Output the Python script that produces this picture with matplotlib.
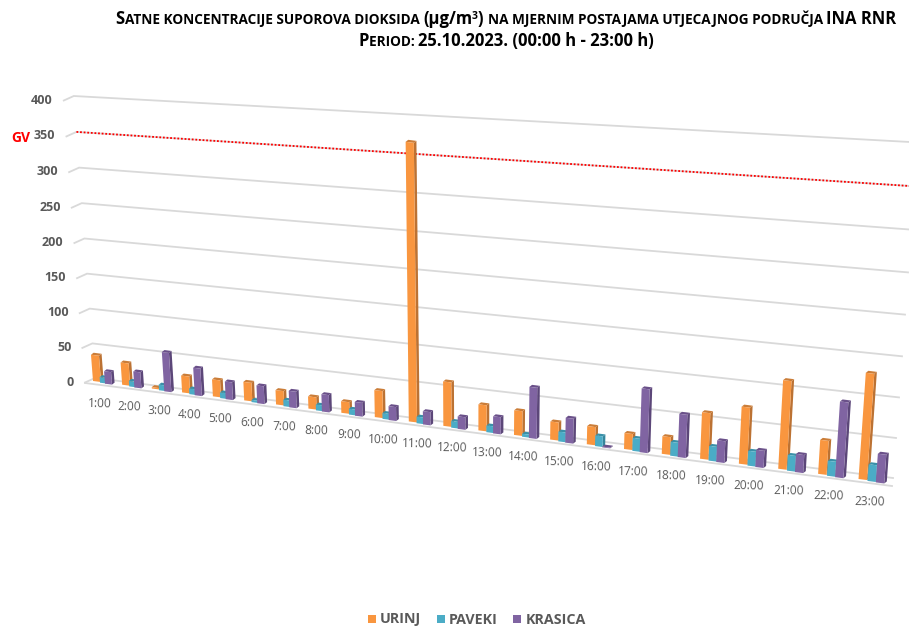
import matplotlib
matplotlib.use("Agg")
import matplotlib.pyplot as plt
from matplotlib.patches import Polygon, Rectangle

# ---------- data ----------
hours = ["1:00","2:00","3:00","4:00","5:00","6:00","7:00","8:00","9:00","10:00","11:00","12:00",
         "13:00","14:00","15:00","16:00","17:00","18:00","19:00","20:00","21:00","22:00","23:00"]
urinj  = [38,32,2,24,24,26,20,17,16,37,370,60,35,33,24,24,21,23,60,73,112,43,132]
paveki = [8,8,8,8,8,3,9,8,8,8,9,9,9,4,13,14,17,18,19,19,20,19,21]
krasica= [18,23,56,39,25,25,23,24,19,19,18,17,23,68,33,1,83,56,28,22,23,95,36]
series_names = ["URINJ","PAVEKI","KRASICA"]
y_ticks = [0,50,100,150,200,250,300,350,400]
gv_limit = 350

front = ["#F9963F","#4BACC6","#8064A2"]
side  = ["#BC7233","#35869C","#5C4779"]
top   = ["#CB7D38","#3A90A8","#6A5089"]
GRID = "#D9D9D9"; TXT = "#595959"

fig = plt.figure(figsize=(9.09,6.26), dpi=100)
ax = fig.add_axes([0,0,1,1])
ax.set_xlim(0,909); ax.set_ylim(626,0); ax.axis("off")

TITLE_FONT = "Open Sans"
BODY = "Open Sans"

# ---------- pseudo-3D projection ----------
def u_of(x): return (x-95)/798
def rise(u,v):
    return (0.69+0.105*u)*v + (3.75e-5+7.25e-5*u)*v*v
def lean(u,v): return (-0.053+0.113*u)*v
def floor_y(x): return 381+0.128*(x-93)
def cat_x(i): return 93+28.9*i+0.268*i*i
def bl(v): return (95-0.053*v, 378-rise(0,v))
def br(v): return (893+0.06*v, 478-rise(1,v))

# gridlines
for v in y_ticks:
    a=bl(v); b=br(v)
    ax.plot([a[0]-10,a[0],b[0]],[a[1]+4.5,a[1],b[1]],color=GRID,lw=1.3,zorder=1,solid_joinstyle="miter")
    ax.text(a[0]-21,a[1]+4,str(v),ha="right",va="center",fontsize=9,fontweight="bold",color=TXT,family=BODY)
ax.plot([85,892],[383,486],color=GRID,lw=1.3,zorder=1)
# limit line
a=bl(gv_limit); b=br(gv_limit)
ax.plot([a[0],b[0]],[a[1],b[1]],color="#FF0000",lw=1.3,ls=(0,(1,1)),zorder=2)
ax.text(30.5,138,"GV",ha="right",va="center",fontsize=10,fontweight="bold",color="#FF0000",family=BODY)

# bars
off_l=[0,7,12]; off_r=[0,9,17.5]; w_l=[8,6,7]; w_r=[8.5,8.5,8.5]; dy=[0,0.8,1.2]
data=[urinj,paveki,krasica]
for i,h in enumerate(hours):
    x0=cat_x(i); u0=u_of(x0)
    for k in range(3):
        v=data[k][i]
        x=x0+off_l[k]+(off_r[k]-off_l[k])*u0
        w=w_l[k]+(w_r[k]-w_l[k])*u0
        u=u_of(x)
        yb=floor_y(x)+dy[k]
        s=0.128*w
        r=rise(u,v); l=lean(u,v)
        z=10+i*3+k
        dep=2.6; dh=2
        fl=(x,yb); fr=(x+w,yb+s)
        tl=(x+l,yb-r); tr=(x+w+l,yb+s-r)
        ax.add_patch(Polygon([fr,(fr[0]+dep,fr[1]-dh),(tr[0]+dep,tr[1]-dh),tr],closed=True,fc=side[k],ec="none",zorder=z))
        ax.add_patch(Polygon([tl,tr,(tr[0]+dep,tr[1]-dh),(tl[0]+dep,tl[1]-dh)],closed=True,fc=top[k],ec="none",zorder=z))
        ax.add_patch(Polygon([fl,fr,tr,tl],closed=True,fc=front[k],ec="none",zorder=z))
    lx=x0+7+4*u0
    ax.text(lx,floor_y(x0)+22.3,h,ha="center",va="center",fontsize=8.6,color=TXT,family=BODY,rotation=-1,rotation_mode="anchor")

# legend
leg=[(368,380),(437,449),(513,526)]
for (sx,tx),n,c in zip(leg,series_names,front):
    ax.add_patch(Rectangle((sx,615),8,8,fc=c,ec="none"))
    ax.text(tx,619.5,n,ha="left",va="center",fontsize=10.3,fontweight="bold",color=TXT,family=BODY)

# title in small caps, built from runs
fig.canvas.draw()
rend=fig.canvas.get_renderer()
def meas(s,size):
    t=ax.text(0,0,"|"+s+"|",fontsize=size,fontweight="bold",family=TITLE_FONT)
    w=t.get_window_extent(rend).width
    t.set_text("||"); w-=t.get_window_extent(rend).width
    t.remove(); return w
BIG=12.0; SMALL=9.8; SUP=7.5
def title_line(runs,cx,y):
    tot=sum(meas(s,z) for s,z,_ in runs)
    x=cx-tot/2
    for s,z,d in runs:
        ax.text(x,y-d,s,fontsize=z,fontweight="bold",family=TITLE_FONT,color="black",ha="left",va="baseline")
        x+=meas(s,z)
title_line([("S",BIG,0),("ATNE KONCENTRACIJE SUPOROVA DIOKSIDA ",SMALL,0),("(µg/m",BIG,0),("3",SUP,5),(") ",BIG,0),
            ("NA MJERNIM POSTAJAMA UTJECAJNOG PODRUČJA ",SMALL,0),("INA RNR",BIG,0)],506,24)
title_line([("P",BIG,0),("ERIOD: ",SMALL,0),("25.10.2023. (00:00 h - 23:00 h)",BIG,0)],506,46)

fig.savefig("out.png",dpi=100)
